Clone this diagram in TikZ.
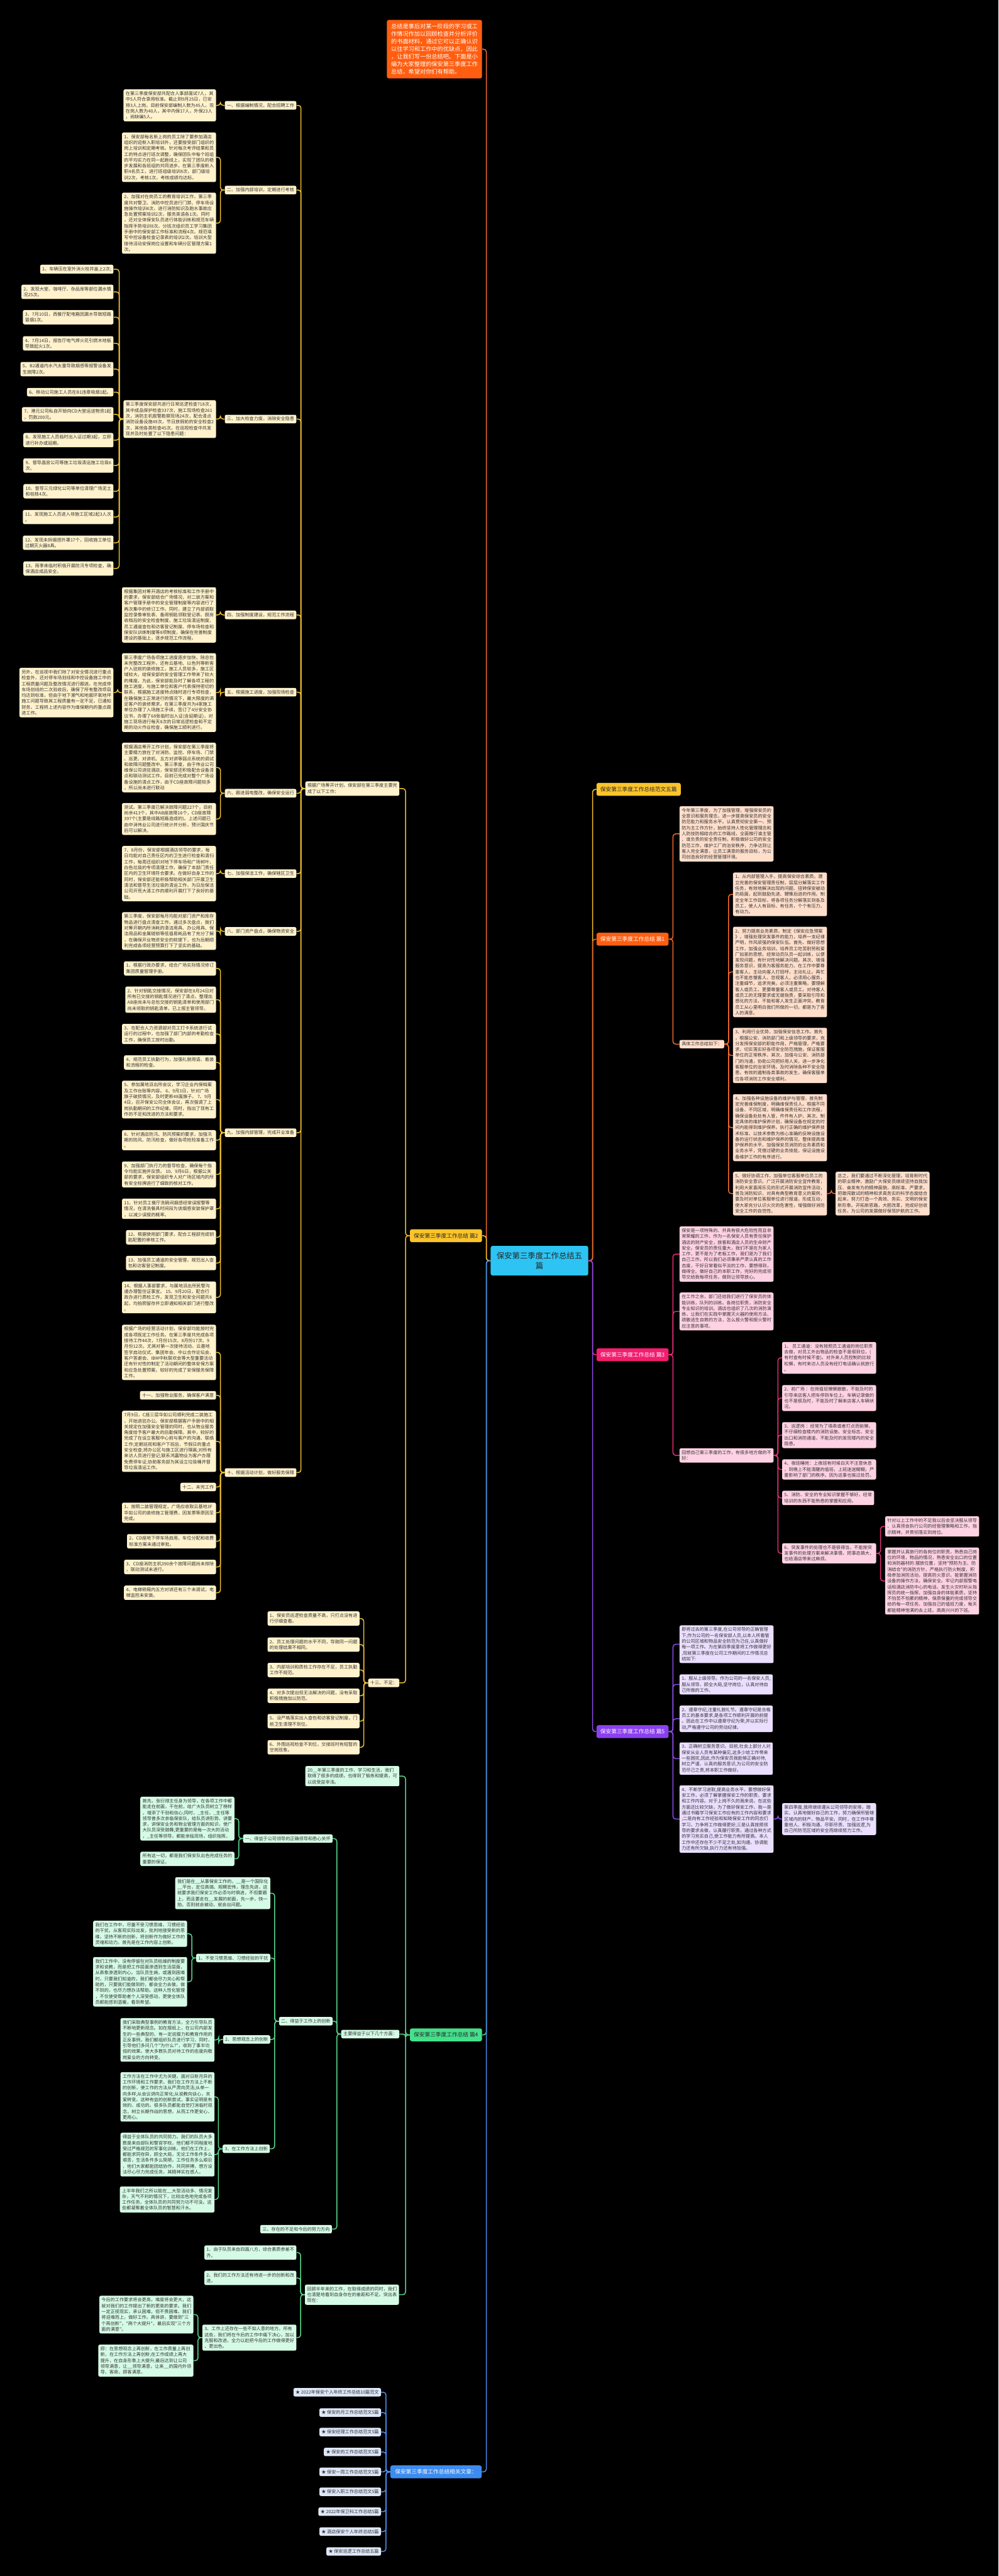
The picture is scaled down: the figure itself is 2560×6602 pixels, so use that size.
\documentclass[tikz,border=0pt]{standalone}
\usepackage{fontspec}
\newfontfamily\cjk{Noto Sans CJK SC}
\definecolor{txt}{HTML}{333333}
\definecolor{yfill}{HTML}{FFF2CC}
\definecolor{yline}{HTML}{EDBE2E}
\definecolor{ynode}{HTML}{FBC42A}
\definecolor{onode}{HTML}{FF5E10}
\definecolor{ofill}{HTML}{FFDFCC}
\definecolor{oline}{HTML}{F26A2E}
\definecolor{pnode}{HTML}{F21D6E}
\definecolor{pfill}{HTML}{FFD2E3}
\definecolor{pline}{HTML}{E62E78}
\definecolor{vnode}{HTML}{8B40F0}
\definecolor{vfill}{HTML}{EADFFF}
\definecolor{vline}{HTML}{8F4DEB}
\definecolor{gnode}{HTML}{44E08B}
\definecolor{gfill}{HTML}{D5FBE6}
\definecolor{gline}{HTML}{55D68C}
\definecolor{bnode}{HTML}{3C8CF0}
\definecolor{bfill}{HTML}{DDE7F7}
\definecolor{bline}{HTML}{4A8DF0}
\definecolor{cnode}{HTML}{2DC4F3}
\tikzset{
 bx/.style={rounded corners=4pt, align=left, font=\cjk\fontsize{11.5}{15}\selectfont, inner xsep=5.5pt, inner ysep=5.5pt, text=txt},
 ybx/.style={bx, fill=yfill},
 obx/.style={bx, fill=ofill},
 pbx/.style={bx, fill=pfill},
 vbx/.style={bx, fill=vfill},
 gbx/.style={bx, fill=gfill},
 bbx/.style={bx, fill=bfill},
 lone/.style={rounded corners=5pt, align=center, font=\cjk\fontsize{14}{17}\selectfont, inner xsep=10pt, inner ysep=8pt, minimum height=33pt},
 con/.style={line width=2.4pt, rounded corners=7pt},
 ycon/.style={con, draw=yline},
 ocon/.style={con, draw=oline},
 pcon/.style={con, draw=pline},
 vcon/.style={con, draw=vline},
 gcon/.style={con, draw=gline},
 bcon/.style={con, draw=bline},
 fcon/.style={con, draw=ynode},
}
\newcommand\Lk[3]{\foreach \kk in {#3} {\draw[#1] (#2.west) -- ++(-11,0) |- (\kk.east);}}
\newcommand\Rk[3]{\foreach \kk in {#3} {\draw[#1] (#2.east) -- ++(11,0) |- (\kk.west);}}
\begin{document}
\begin{tikzpicture}[x=1pt,y=-1pt]
\fill[black] (0,0) rectangle (2560,6602);
\useasboundingbox (0,0) rectangle (2560,6602);

% central
\node[rounded corners=5pt, fill=cnode, text=black!85, align=center, font=\cjk\fontsize{20}{25}\selectfont, minimum width=250pt, minimum height=76pt] (c) at (1383,3231) {保安第三季度工作总结五\\篇};

% intro
\node[anchor=east, rounded corners=5pt, fill=onode, text=white, align=left, font=\cjk\fontsize{14.8}{19.3}\selectfont, inner xsep=11pt, inner ysep=10pt] (intro) at (1236,126) {总结是事后对某一阶段的学习或工\\作情况作加以回顾检查并分析评价\\的书面材料，通过它可以正确认识\\以往学习和工作中的优缺点，因此\\，让我们写一份总结吧。下面是小\\编为大家整理的保安第三季度工作\\总结，希望对你们有帮助。};

% level 1
\node[lone, anchor=east, fill=ynode, text=black!85] (p2) at (1236,3167) {保安第三季度工作总结 篇2};
\node[lone, anchor=east, fill=gnode, text=black!85] (p4) at (1236,5215) {保安第三季度工作总结 篇4};
\node[lone, anchor=east, fill=bnode, text=white, inner xsep=12pt] (rel) at (1235,6335) {保安第三季度工作总结相关文章：};
\node[lone, anchor=west, fill=ynode, text=black!85] (fw) at (1529,2023) {保安第三季度工作总结范文五篇};
\node[lone, anchor=west, fill=onode, text=white] (p1) at (1529,2407) {保安第三季度工作总结 篇1};
\node[lone, anchor=west, fill=pnode, text=white] (p3) at (1529,3472) {保安第三季度工作总结 篇3};
\node[lone, anchor=west, fill=vnode, text=white] (p5) at (1529,4438) {保安第三季度工作总结 篇5};

% ===== 篇2 =====
\node[ybx, anchor=east] (gen) at (1024,2021) {根据广场筹开计划，保安部在第三季度主要完\\成了以下工作：};
\node[ybx, anchor=east] (n13) at (1024,4313) {十三、不足：};

\node[ybx, anchor=east] (k1) at (760,270) {一、根据编制情况，配合招聘工作};
\node[ybx, anchor=east] (k2) at (760,487) {二、加强内部培训，定期进行考核};
\node[ybx, anchor=east] (k3) at (760,1074) {三、加大检查力度，消除安全隐患};
\node[ybx, anchor=east] (k4) at (760,1576) {四、加强制度建设，规范工作流程};
\node[ybx, anchor=east] (k5) at (760,1774) {五、根据施工进度，加强现场检查};
\node[ybx, anchor=east] (k6) at (760,2033) {六、跟进弱电整改，确保安全运行};
\node[ybx, anchor=east] (k7) at (760,2239) {七、加强保洁工作，确保辖区卫生};
\node[ybx, anchor=east] (k8) at (760,2387) {八、部门资产盘点，确保物资安全};
\node[ybx, anchor=east] (k9) at (760,2903) {九、加强内部管理，完成开业准备};
\node[ybx, anchor=east] (k10) at (760,3774) {十、根据活动计划，做好服务保障};

\node[ybx, anchor=east] (k1a) at (554,270) {在第三季度保安部共配合人事部面试7人，其\\中5人符合录用标准。截止到9月25日，已安\\排3人上岗。目前保安部编制人数为45人，现\\在岗人数为40人，其中内保17人，外保23人\\，尚缺编5人。};
\node[ybx, anchor=east] (k2a) at (554,403) {1、保安部每名新上岗的员工除了要参加酒店\\组织的迎新入职培训外，还要接受部门组织的\\岗上培训和定期考核。针对每次考评结果和员\\工的特点进行班次调整，确保团队中每个班组\\的平均实力在同一起跑线上，实现了团队的稳\\步发展和各班组的共同进步。在第三季度新入\\职4名员工，进行班组级培训8次，部门级培\\训2次，考核1次，考核成绩均达标。};
\node[ybx, anchor=east] (k2b) at (554,572) {2、加强对在岗员工的教育培训工作，第三季\\度共对警卫、消防中控员进行门禁、停车场设\\施操作培训4次，进行消防知识及跑水事故应\\急处置预案培训2次，服务英语各1次。同时\\，还对全体保安队员进行体能训练和规范车辆\\指挥手势培训8次。分班次组织员工学习集团\\手册中的保安部工作标准和流程4次。规范填\\写中控设备检查记录表的培训2次。培训大型\\接待活动安保岗位设置和车辆分区管理方案1\\次。};
\node[ybx, anchor=east] (k3a) at (554,1074) {第三季度保安部共进行日常巡逻检查718次，\\其中成品保护检查337次，施工现场检查261\\次，消防主机报警勘察现场24次，配合清点\\消防设备设施49次，节日放假前的安全检查2\\次，其他各类检查45次。在巡视检查中共发\\现并及时处置了以下隐患问题：};
\node[ybx, anchor=east] (s1) at (291,690) {1、车辆压在室外消火栓井盖上2次;};
\node[ybx, anchor=east] (s2) at (291,748) {2、发现大堂、咖啡厅、杂品库等部位漏水情\\况25次。};
\node[ybx, anchor=east] (s3) at (291,813) {3、7月10日，西餐厅配电箱因漏水导致短路\\冒烟1次。};
\node[ybx, anchor=east] (s4) at (291,880) {4、7月14日，报告厅电气焊火花引燃木地板\\导致起火1次。};
\node[ybx, anchor=east] (s5) at (291,946) {5、B2通道内水汽太重导致烟感等报警设备发\\生故障2次。};
\node[ybx, anchor=east] (s6) at (291,1005) {6、移动公司施工人员在B1违章吸烟1起。};
\node[ybx, anchor=east] (s7) at (291,1062) {7、港元公司私自开锁向CD大堂运送物资1起\\，罚款200元。};
\node[ybx, anchor=east] (s8) at (291,1128) {8、发现施工人员临时出入证过期3起，立即\\进行补办或延期。};
\node[ybx, anchor=east] (s9) at (291,1193) {9、督导晶宫公司等施工垃圾清运施工垃圾6\\次。};
\node[ybx, anchor=east] (s10) at (291,1259) {10、督导三元绿化公司等单位清理广场泥土\\和枯枝4次。};
\node[ybx, anchor=east] (s11) at (291,1325) {11、发现施工人员进入非施工区域2起3人次\\。};
\node[ybx, anchor=east] (s12) at (291,1391) {12、发现未拆烟感外罩17个，回收施工单位\\过期灭火器8具。};
\node[ybx, anchor=east] (s13) at (291,1457) {13、雨季来临时积极开展防汛专项检查，确\\保酒店成品安全。};
\node[ybx, anchor=east] (k4a) at (554,1576) {根据集团对筹开酒店的考核标准和工作手册中\\的要求，保安部结合广场情况，对二装方案和\\客户管理手册中的安全管理制度等内容进行了\\两次集中的修订工作。同时，建立了内部调取\\监控录像审批表、备用钥匙领取登记表、厨房\\收档后的安全检查制度、施工垃圾清运制度、\\员工通道查包和访客登记制度、停车场检查和\\保安队训练制度等8项制度，确保在完善制度\\建设的基础上，逐步规范工作流程。};
\node[ybx, anchor=east] (k5a) at (554,1775) {第三季度广场各项施工进度逐步加快，除总包\\未完整改工程外，还有云基地、以色列等新客\\户入驻前的装修施工，施工人员较多，施工区\\域较大，给保安部的安全管理工作带来了较大\\的难度。为此，保安部能及时了解各项工程的\\施工进度，与施工单位和客户代表保持密切的\\联系，根据施工进度特点随时进行专项检查，\\在确保施工正常进行的情况下，最大限度的满\\足客户的装修需求。在第三季度共为4家施工\\单位办理了入场施工手续，签订了4分安全协\\议书，办理了68张临时出入证(含延期证)，对\\施工现场进行每天8次的日常巡逻检查和不定\\期的动火作业检查，确保施工顺利进行。};
\node[ybx, anchor=east] (k5b) at (291,1775) {另外，在巡视中我们除了对安全情况进行重点\\检查外，还对停车场划线和中控设备施工中的\\工程质量问题及整改情况进行跟进。在完成停\\车场划线的二次验收后，确保了所有整改项目\\均达到标准，但由于地下潮气和地面环氧地坪\\施工问题导致其工程质量有一定不足，已通知\\财务、工程将上述内容作为维保期内的重点跟\\进工作。};
\node[ybx, anchor=east] (k6a) at (554,1967) {根据酒店筹开工作计划，保安部在第三季度将\\主要精力放在了对消防、监控、停车场、门禁\\、巡更、对讲机、五方对讲等弱点系统的调试\\和故障问题整改中。第三季度，由于伟业公司\\维保公司进驻酒店，保安部还积极配合设备清\\点和联动测试工作。目前已完成对整个广场设\\备设施的清点工作，由于CD座故障问题较多\\，所以尚未进行联动};
\node[ybx, anchor=east] (k6b) at (554,2099) {测试。第三季度已解决故障问题227个，目前\\尚余413个，其中AB座故障16个，CD座故障\\397个(主要是线路短路造成的)。上述问题已\\由中消伟业公司进行统计并分析，预计国庆节\\后可以解决。};
\node[ybx, anchor=east] (k7a) at (554,2239) {7、8月份，保安部根据酒店领导的要求，每\\日均能对自己责任区内的卫生进行检查和清扫\\工作，每周还组织对地下停车场和广场树叶、\\白色垃圾的专项清理工作，确保了本部门责任\\区内的卫生环境符合要求。在做好自身工作的\\同时，保安部还能积极帮助相关部门开展卫生\\清洁和督导生活垃圾的清运工作，为日后保洁\\公司开荒大清工作的顺利开展打下了良好的基\\础。};
\node[ybx, anchor=east] (k8a) at (554,2386) {第三季度，保安部每月均能对部门资产和库存\\物品进行盘点清查工作。通过多次盘点，我们\\对筹开期内所消耗的清洁用具、办公用具、保\\洁用品和金属链锁等低值易耗品有了充分了解\\，在确保开业物资安全的前提下，也为后期顺\\利完成各项经营预算打下了坚实的基础。};
\node[ybx, anchor=east] (m1) at (554,2482) {1、根据行政办要求，结合广场实际情况修订\\集团质量管理手册。};
\node[ybx, anchor=east] (m2) at (554,2562) {2、针对钥匙交接情况，保安部在8月24日对\\所有已交接的钥匙情况进行了清点，整理出\\AB座尚未与总包交接的钥匙清单和使用部门\\尚未领取的钥匙清单，已上报主管领导。};
\node[ybx, anchor=east] (m3) at (554,2650) {3、在配合人力资源部对员工打卡系统进行试\\运行的过程中，也加强了部门内部的考勤检查\\工作，确保员工按时出勤。};
\node[ybx, anchor=east] (m4) at (554,2723) {4、规范员工执勤行为，加强礼貌用语、着装\\和流程的检查。};
\node[ybx, anchor=east] (m5) at (554,2818) {5、参加属地派出所会议，学习企业内保档案\\及工作台账等内容。 6、9月3日，针对广场\\旗子破损情况，及时更新48面旗子。 7、9月\\4日，召开保安公司全体会议，再次强调了上\\岗执勤期间的工作纪律。同时，指出了现有工\\作的不足和改进的方法和要求。};
\node[ybx, anchor=east] (m6) at (554,2922) {8、针对酒店防汛、防风预案的要求，加强汛\\期的防风、防汛检查，做好各项抢险准备工作\\。};
\node[ybx, anchor=east] (m7) at (554,3010) {9、加强部门执行力的督导检查，确保每个指\\令均能实施并反馈。 10、9月6日，根据公关\\部的要求，保安部组织专人对广场区域内的所\\有安全标牌进行了细致的核对工作。};
\node[ybx, anchor=east] (m8) at (554,3098) {11、针对员工餐厅洗碗间烟感经常误报警等\\情况，在清洗餐具时间段为该烟感安装保护罩\\，以减少误报的概率。};
\node[ybx, anchor=east] (m9) at (554,3171) {12、根据使用部门要求，配合工程部完成钥\\匙配置的审核工作。};
\node[ybx, anchor=east] (m10) at (554,3237) {13、加强员工通道的安全管理，规范出入查\\包和访客登记制度。};
\node[ybx, anchor=east] (m11) at (554,3325) {14、根据人事部要求，与属地派出所民警沟\\通办理暂住证事宜。 15、9月20日，配合行\\政办进行质检工作，发现卫生和安全问题共8\\起，均拍照留存并立即通知相关部门进行整改\\。};
\node[ybx, anchor=east] (t1) at (554,3466) {根据广场的经营活动计划，保安部均能按时完\\成各项既定工作任务。在第三季度共完成各项\\接待工作44次，7月份15次、8月份17次、9\\月份12次。尤其对第一次接待活动、云基地\\签字启动仪式、集团年会、中以合作论坛会、\\客户答谢会、IBM中秋联欢会等大型重要活动\\还有针对性的制定了活动期间的整体安保方案\\和应急处置预案，较好的完成了安保服务保障\\工作。};
\node[ybx, anchor=east] (t2) at (554,3576) {十一、加强物业服务，确保客户满意};
\node[ybx, anchor=east] (t3) at (554,3694) {7月9日，C座三层华如公司顺利完成二装施工\\，开始进驻办公。保安部根据客户手册中的相\\关规定在加强安全管理的同时，也从物业服务\\角度给予客户最大的后勤保障。其中，较好的\\完成了在设立客服中心前与客户的沟通、联络\\工作;定期巡视和客户下班后、节假日的重点\\安全检查;将办公区与施工区进行隔离;对所有\\来访人员进行登记;联系鸿嘉物业为客户办理\\免费停车证;协助客务部为其设立垃圾桶并督\\导垃圾清运工作。};
\node[ybx, anchor=east] (t4) at (554,3811) {十二、未完工作};
\node[ybx, anchor=east] (t5) at (554,3877) {1、按照二装管理规定，广场应收取云基地3F\\华如公司的装修施工管理费，因发票等原因至\\完成。};
\node[ybx, anchor=east] (t6) at (554,3950) {2、CD座地下停车场启用、车位分配和收费\\标准方案未通过审批。};
\node[ybx, anchor=east] (t7) at (554,4016) {3、CD座消防主机390余个故障问题尚未排除\\，联动测试未进行。};
\node[ybx, anchor=east] (t8) at (554,4082) {4、电梯轿厢内五方对讲还有三个未调试，电\\梯监控未安装。};
\node[ybx, anchor=east] (u1) at (922,4148) {1、保安员巡逻检查质量不高，只打点没有进\\行仔细查看。};
\node[ybx, anchor=east] (u2) at (922,4215) {2、员工处理问题的水平不同，导致同一问题\\的处理结果不相同。};
\node[ybx, anchor=east] (u3) at (922,4280) {3、内部培训和质检工作存在不足，员工执勤\\工作不规范。};
\node[ybx, anchor=east] (u4) at (922,4346) {4、对多次提出但无法解决的问题，没有采取\\积极措施加以防范。};
\node[ybx, anchor=east] (u5) at (922,4411) {5、没严格落实出入查包和访客登记制度，门\\前卫生清理不到位。};
\node[ybx, anchor=east] (u6) at (922,4478) {6、外围巡视检查不到位，交接班时有短暂的\\空岗现象。};

% ===== 篇4 =====
\node[gbx, anchor=east] (g1) at (1024,4552) {20\_\_年第三季度的工作、学习和生活，我们\\取得了很多的成绩，也得到了锻炼和提高，可\\以说受益非浅。};
\node[gbx, anchor=east] (g2) at (1024,5213) {主要得益于以下几个方面：};
\node[gbx, anchor=east] (g3) at (1023,5881) {回顾半年来的工作，在取得成绩的同时，我们\\也清楚地看到自身存在的差距和不足。突出表\\现在：};
\node[gbx, anchor=east] (ga) at (853,4712) {一、得益于公司领导的正确领导和悉心关怀};
\node[gbx, anchor=east] (gb) at (853,5180) {二、得益于工作上的创新};
\node[gbx, anchor=east] (gc) at (851,5713) {三、存在的不足和今后的努力方向};
\node[gbx, anchor=east] (ga1) at (601,4661) {首先，张衍禄主任身为领导，在各项工作中都\\能走在前面，干在前，给广大队员树立了榜样\\，增添了干劲和信心;同时，\_主任、\_主任等\\领导曾多次亲临保安队，给队员讲形势、讲要\\求，讲保安业务和物业管理方面的知识，使广\\大队员深受鼓舞;更重要的是每一次大的活动\\，\_主任等领导，都能亲临现场，组织指挥。};
\node[gbx, anchor=east] (ga2) at (601,4764) {所有这一切，都是我们保安队出色完成任务的\\重要的保证。};
\node[gbx, anchor=east] (gb1) at (693,4852) {我们是在\_\_从事保安工作的，\_\_是一个国际化\\\_\_平台，定位高端、规模宏伟，理念先进，这\\就要求我们保安工作必须与时俱进，不但要跟\\上，而且要走在\_\_发展的前面，先一步，快一\\拍，否则就会被动，就会出问题。};
\node[gbx, anchor=east] (gb2) at (693,5018) {1、不受习惯思维、习惯经验的干扰};
\node[gbx, anchor=east] (gb3) at (693,5227) {2、思想观念上的创新};
\node[gbx, anchor=east] (gb4) at (692,5507) {3、在工作方法上创新};
\node[gbx, anchor=east] (gb2a) at (480,4956) {我们在工作中，尽量不受习惯思维、习惯经验\\的干扰，从客观实际出发，批判地接受新的思\\维，坚持不断的创新，将创新作为做好工作的\\灵魂和动力。首先是在工作内容上创新。};
\node[gbx, anchor=east] (gb2b) at (480,5079) {我们工作中，没有停留在对队员枯燥的制度要\\求和说教，而是把工作层面渗透到生活层面，\\从表象渗透到内心。当队员生病，或遇到困难\\时，只要我们知道的，我们都会尽力关心和帮\\助的，只要我们能做到的，都会全力去做，做\\不到的，也尽力想办法帮助。这种人性化管理\\，不仅使受帮助者个人深受感动，更使全体队\\员都能感到温暖，看到希望。};
\node[gbx, anchor=east] (gb3a) at (550,5228) {我们采取典型事例的教育方法，全力引导队员\\不断地更新观念。如在报纸上，在公司内部发\\生的一些典型的、有一定说服力和教育作用的\\正反事例，我们都组织队员进行学习，同时，\\引导他们多问几个"为什么?"，收到了事半功\\倍的效果。使大多数队员对待工作的态度向敬\\岗爱业的方向转变。};
\node[gbx, anchor=east] (gb4a) at (550,5374) {工作方法在工作中尤为关键。面对日新月异的\\工作环境和工作要求，我们在工作方法上不断\\的创新，使工作的方法从严肃向灵活;从单一\\向多样;从会议讲向正常化;从说教向谈心，关\\爱转变。这种有益的创新尝试，事实证明是有\\效的、成功的。很多队员都能自觉打消临时观\\念，树立长期作战的思想，从而工作更安心、\\更用心。};
\node[gbx, anchor=east] (gb4b) at (550,5522) {得益于全体队员的共同努力。我们的队员大多\\数是来自部队和警官学校，他们都不同程度地\\受过严格规范的军事化训练。他们在工作上，\\都能求同存异，顾全大局，无论工作条件多么\\艰苦，生活条件多么简陋，工作任务多么艰巨\\，他们大家都能团结协作，共同拼搏，想方设\\法尽心尽力完成任务，其精神实在感人。};
\node[gbx, anchor=east] (gb4c) at (550,5637) {上半年我们之所以能在\_\_大型活动多、情况复\\杂，天气不利的情况下，比较出色地完成各项\\工作任务，全体队员的共同努力功不可没。这\\些都凝聚着全体队员的智慧和汗水。};
\node[gbx, anchor=east] (g3a) at (760,5773) {1、由于队员来自四面八方，综合素质参差不\\齐。};
\node[gbx, anchor=east] (g3b) at (760,5838) {2、我们的工作方法还有待进一步的创新和改\\进。};
\node[gbx, anchor=east] (g3c) at (760,5991) {3、工作上还存在一些不如人意的地方。所有\\这些，我们将在今后的工作中痛下决心，加以\\克服和改进，全力以赴把今后的工作做得更好\\、更出色。};
\node[gbx, anchor=east] (g3c1) at (496,5932) {今后的工作要求将会更高，难度将会更大，这\\就对我们的工作提出了新的更高的要求。我们\\一定正视现实，承认困难，但不畏困难。我们\\将迎难而上，做好工作。具体讲，要做到"三\\个再创新"，"两个大提升"，最后实现"三个方\\面的满意"。};
\node[gbx, anchor=east] (g3c2) at (496,6050) {即：在思想观念上再创新，在工作质量上再创\\新，在工作方法上再创新;在工作成绩上再大\\提升，在自身形象上大提升;最后达到让公司\\领导满意，让\_\_领导满意，让来\_\_的国内外领\\导、客商，顾客满意。};

% ===== 相关文章 =====
\node[bbx, anchor=east] (r1) at (977,6131) {★ 2022年保安个人年终工作总结10篇范文};
\node[bbx, anchor=east] (r2) at (977,6183) {★ 保安的月工作总结范文5篇};
\node[bbx, anchor=east] (r3) at (977,6233) {★ 保安经理工作总结范文5篇};
\node[bbx, anchor=east] (r4) at (977,6284) {★ 保安的工作总结范文5篇};
\node[bbx, anchor=east] (r5) at (977,6335) {★ 保安一周工作总结范文5篇};
\node[bbx, anchor=east] (r6) at (977,6386) {★ 保安入职工作总结范文5篇};
\node[bbx, anchor=east] (r7) at (977,6437) {★ 2022年保卫科工作总结5篇};
\node[bbx, anchor=east] (r8) at (977,6488) {★ 酒店保安个人年终总结5篇};
\node[bbx, anchor=east] (r9) at (977,6539) {★ 保安巡逻工作总结五篇};

% ===== 篇1 =====
\node[obx, anchor=west] (a1) at (1742,2137) {今年第三季度，为了加强管理，增强保安员的\\全意识和服务理念，进一步提高保安员的安全\\防范能力和服务水平。认真贯彻安全第一、预\\防为主工作方针，始终坚持人性化管理理念和\\人防技防相结合的工作路线，全面推行谁主管\\、谁负责的安全责任制，积极做好公司的安全\\防范工作，维护工厂的治安秩序，力争达到让\\客人完全满意，让员工满意的服务目标，为公\\司创造良好的经营管理环境。};
\node[obx, anchor=west] (a2) at (1742,2676) {具体工作总结如下：};
\node[obx, anchor=west] (b1) at (1879,2292) {1、从内部管理入手，提高保安综合素质。建\\立完善的保安管理责任制，层层分解落实工作\\任务，有效地解决出现的问题、扭转保安被动\\的局面，起到鼓励先进、鞭策后进的作用。制\\定全年工作目标，将各项任务分解落实到各及\\员工，使人人有目标、有任务，个个有压力、\\有动力。};
\node[obx, anchor=west] (b2) at (1879,2491) {2、努力提高业务素质，制定《保安应急预案\\》，增强处理突发事件的能力，培养一支纪律\\严明，作风顽强的保安队伍。首先、做好思想\\工作，加强业务培训，培养员工吃苦耐劳和爱\\厂如家的思想。经常动员队员一起训练，以便\\发现问题，有针对性地解决问题。其次、增强\\服务意识，提高为客服务能力。在工作中要尊\\重客人，主动向客人打招呼，主动礼让。再忙\\也不能怠慢客人、忽视客人，必须用心服务，\\注重细节，追求完美。必须注重策略，要理解\\客人或员工，更要尊重客人或员工。对待客人\\或员工的无理要求或无端指责，要采取引导和\\感化的方法，不能和客人发生正面冲突。教育\\员工从心里明白我们所做的一切，都是为了客\\人的满意。};
\node[obx, anchor=west] (b3) at (1879,2705) {3、利用行业优势，加强保安信息工作。首先\\，根据公安、消防部门和上级领导的要求，充\\分发挥保安部的职能作用，严格管理，严格要\\求，切实落实好各项安全防范措施，保证客服\\单位的正常秩序。其次，加强与公安、消防部\\门的沟通，协助公司把好用人关，进一步净化\\客服单位的治安环境。及时消除各种不安全隐\\患，有效的遏制各类事故的发生，确保客服单\\位各项消防工作安全顺利。};
\node[obx, anchor=west] (b4) at (1879,2890) {4、加强各种设施设备的维护与管理，首先制\\定完善维保制度，明确维保责任人。根据不同\\设备、不同区域，明确维保责任和工作流程，\\确保设备处处有人管，件件有人护。其次、制\\定具体的维护保养计划，确保设备在规定的时\\间内能得到维护保养。执行正确的维护保养技\\术标准，以技术参数为核心准确的反映设施设\\备的运行状态和维护保养的情况，整体提高维\\护保养的水平。加强保安员消防的业务素质和\\业务水平，凭借过硬的业务技能，保证设施设\\备维护工作的有序进行。};
\node[obx, anchor=west] (b5) at (1879,3059) {5、做好协调工作，加强单位客服单位员工的\\消防安全意识。广泛开展消防安全宣传教育，\\利用大家喜闻乐见的形式开展消防宣传活动，\\普及消防知识，对具有典型教育意义的案例，\\要及时对单位客服单位进行报道，形成互动，\\使大家充分认识火灾的危害性，增强做好消防\\安全工作的自觉性。};
\node[obx, anchor=west] (b6) at (2142,3059) {总之，我们要通过不断深化管理，培育新时代\\的职业精神，激励广大保安员继续坚持自我加\\压、奋发有为的精神面貌，高标准、严要求，\\把敢闯敢试的精神和求真务实的科学态度结合\\起来，努力打造一个高效、务实、文明的保安\\新形象。开拓新思路，大胆改革，完成好创收\\任务，为公司的发展做好保驾护航的工作。};

% ===== 篇3 =====
\node[pbx, anchor=west] (c1) at (1742,3214) {保安是一项特殊的、并具有很大危险性而且非\\常荣耀的工作，作为一名保安人员有责任保护\\酒店的财产安全，旅客和酒店人员的生命财产\\安全。保安员的责任重大，我们不是在为家人\\工作，更不是为了老板工作，我们是为了我们\\自己工作。所以我们必须秉承严肃认真的工作\\态度，干好日常看似平淡的工作，要想得到，\\做得全。做好自己的本职工作，完好的完成领\\导交给我每项任务，做到让领导放心。};
\node[pbx, anchor=west] (c2) at (1742,3361) {在工作之余，部门还给我们进行了保安员的体\\能训练，队列的训练。各岗位职责，消防安全\\专业知识的培训。酒店也组织了几次的消防演\\练，让我们在实践中掌握灭火器的使用方法、\\疏散逃生自救的方法，怎么报火警和报火警时\\应注意的事项。};
\node[pbx, anchor=west] (c3) at (1742,3730) {回想自己第三季度的工作，有很多地方做的不\\好：};
\node[pbx, anchor=west] (d1) at (2005,3480) {1、 员工通道：没有按照员工通道的岗位职责\\去做，对员工外出物品的检查不是很到位，(\\有时查有时候不查)。对外来人员控制的比较\\松懈，有时来访人员没有经打电话确认就放行\\。};
\node[pbx, anchor=west] (d2) at (2005,3583) {2、前广场 ：在岗值班懒懒散散，不能及时的\\引导来店客人把车停到车位上。车辆记录做的\\也不是很及时，不能及时了解来店客人车辆状\\况。};
\node[pbx, anchor=west] (d3) at (2005,3678) {3、巡逻岗 ：经常为了填表或者打点而偷懒，\\不仔细检查楼内的消防设施、安全标志、安全\\出口和消防通道，不能及时的发现楼内的安全\\隐患。};
\node[pbx, anchor=west] (d4) at (2005,3766) {4、夜班睡岗：上夜班有时候白天不注意休息\\，到晚上不能清醒的值班，上班迷迷糊糊，严\\重影响了部门的秩序。因为这事也挨过处罚。};
\node[pbx, anchor=west] (d5) at (2005,3839) {5、消防、安全的专业知识掌握不够好，经常\\培训的东西不能熟悉的掌握和应用。};
\node[pbx, anchor=west] (d6) at (2005,3981) {6、突发事件的处理也不是很得当，不能按突\\发事件的处理方案来解决事情，把事态搞大，\\也给酒店带来过麻烦。};
\node[pbx, anchor=west] (e1) at (2269,3912) {针对以上工作中的不足我以后会坚决服从领导\\、认真领会执行公司的经管理策略和工作，指\\示精神，并贯彻落实到岗位。};
\node[pbx, anchor=west] (e2) at (2269,4052) {掌握并认真旅行的各岗位的职责，熟悉自己岗\\位的环境，物品的情况，熟悉安全出口的位置\\和消防器材的.摆放位置，坚持"预防为主、防\\消结合"的消防方针，严格执行防火制度，积\\极参加消防活动，提高防火意识，能掌握消防\\设备的操作方法，确保安全。牢记内部报警电\\话和酒店消防中心的电话。发生火灾时听从指\\挥员的统一指挥。加强自身的体能素质，坚持\\不怕苦不怕累的精神，保质保量的完成领导交\\给的每一项任务。加强自己的值班力度，每天\\都能精神饱满的去上班。高高兴兴的下班。};

% ===== 篇5 =====
\node[vbx, anchor=west] (f1) at (1742,4214) {即将过去的第三季度,在公司领导的正确管理\\下,作为公司的一名保安部人员,以本人所看管\\的公司区域和物品安全防范为己任,认真做好\\每一项工作。为在第四季度里将工作做得更好\\,现就第三季度在公司工作期间的工作情况总\\结如下:};
\node[vbx, anchor=west] (f2) at (1742,4317) {1、服从上级领导。作为公司的一名保安人员,\\服从领导、顾全大局,坚守岗位，认真对待自\\己所做的工作。};
\node[vbx, anchor=west] (f3) at (1742,4405) {2、遵章守纪,注重礼貌礼节。遵章守纪是合格\\员工的基本要求,是各项工作顺利开展的前提\\。因此在工作中以遵章守纪为荣,并以实际行\\动,严格遵守公司的劳动纪律。};
\node[vbx, anchor=west] (f4) at (1742,4507) {3、正确树立服务意识。目前,社会上部分人对\\保安从业人员有某种偏见,这多少给工作带来\\一些困扰,因此,作为保安员我能够正确对待,\\树立严谨、认真的服务意识,为公司的安全防\\范尽己之责,将本职工作做好。};
\node[vbx, anchor=west] (f5) at (1742,4662) {4、不断学习进取,提高业务水平。要想做好保\\安工作，必须了解掌握保安工作的职责、要求\\和工作内容。对于上岗不久的我来说，在这些\\方面还比较欠缺，为了做好保安工作，我一是\\通过书籍学习保安工作应有的工作内容和要求\\;二是向有工作经验和知晓保安工作的同志们\\学习，力争将工作做得更好;三是认真按照领\\导的要求去做，认真履行职责。通过各种方式\\的学习充实自己,使工作能力有所提高。本人\\工作中还存在不少不足之处,如沟通、协调能\\力还有所欠缺,执行力还有待加强。};
\node[vbx, anchor=west] (f6) at (2005,4662) {第四季度,我将继续遵从公司领导的安排，踏\\实、认真地做好自己的工作，努力确保所管辖\\区域内的财产、物品平安。同时，在工作中尊\\重他人、积极沟通、尽职尽责、加强巡逻,为\\自己所防范区域的安全而继续努力工作。};

% ===== connectors =====
\Lk{ocon}{c}{intro}
\Lk{ycon}{c}{p2}
\Lk{gcon}{c}{p4}
\Lk{bcon}{c}{rel}
\Rk{fcon}{c}{fw}
\Rk{ocon}{c}{p1}
\Rk{pcon}{c}{p3}
\Rk{vcon}{c}{p5}

\Lk{ycon}{p2}{gen,n13}
\Lk{ycon}{gen}{k1,k2,k3,k4,k5,k6,k7,k8,k9,k10}
\Lk{ycon}{k1}{k1a}
\Lk{ycon}{k2}{k2a,k2b}
\Lk{ycon}{k3}{k3a}
\Lk{ycon}{k3a}{s1,s2,s3,s4,s5,s6,s7,s8,s9,s10,s11,s12,s13}
\Lk{ycon}{k4}{k4a}
\Lk{ycon}{k5}{k5a}
\Lk{ycon}{k5a}{k5b}
\Lk{ycon}{k6}{k6a,k6b}
\Lk{ycon}{k7}{k7a}
\Lk{ycon}{k8}{k8a}
\Lk{ycon}{k9}{m1,m2,m3,m4,m5,m6,m7,m8,m9,m10,m11}
\Lk{ycon}{k10}{t1,t2,t3,t4,t5,t6,t7,t8}
\Lk{ycon}{n13}{u1,u2,u3,u4,u5,u6}

\Lk{gcon}{p4}{g1,g2,g3}
\Lk{gcon}{g2}{ga,gb,gc}
\Lk{gcon}{ga}{ga1,ga2}
\Lk{gcon}{gb}{gb1,gb2,gb3,gb4}
\Lk{gcon}{gb2}{gb2a,gb2b}
\Lk{gcon}{gb3}{gb3a}
\Lk{gcon}{gb4}{gb4a,gb4b,gb4c}
\Lk{gcon}{g3}{g3a,g3b,g3c}
\Lk{gcon}{g3c}{g3c1,g3c2}

\Lk{bcon}{rel}{r1,r2,r3,r4,r5,r6,r7,r8,r9}

\Rk{ocon}{p1}{a1,a2}
\Rk{ocon}{a2}{b1,b2,b3,b4,b5}
\Rk{ocon}{b5}{b6}
\Rk{pcon}{p3}{c1,c2,c3}
\Rk{pcon}{c3}{d1,d2,d3,d4,d5,d6}
\Rk{pcon}{d6}{e1,e2}
\Rk{vcon}{p5}{f1,f2,f3,f4,f5}
\Rk{vcon}{f5}{f6}
\end{tikzpicture}
\end{document}
